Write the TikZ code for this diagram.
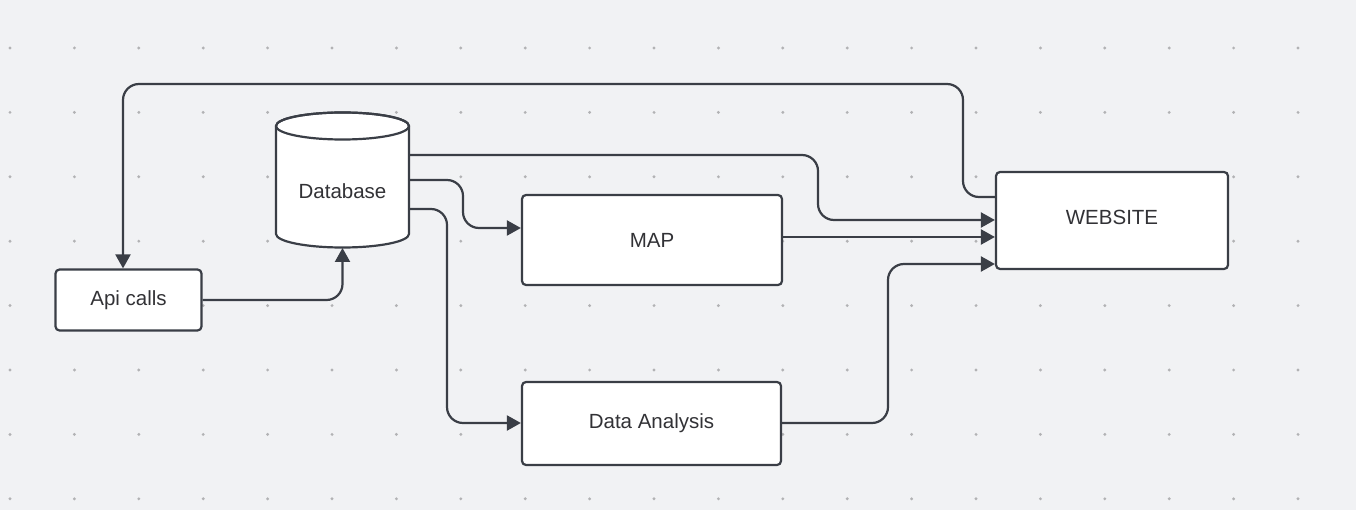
\documentclass[tikz,border=0pt]{standalone}
\usepackage{fontspec}
\setmainfont{Liberation Sans}
\usetikzlibrary{arrows.meta}
\definecolor{bgc}{RGB}{241,242,244}
\definecolor{linec}{RGB}{58,62,70}
\definecolor{dotc}{RGB}{178,178,180}
\definecolor{txtc}{RGB}{50,50,54}
\tikzset{
  box/.style={draw=linec, line width=2.2pt, fill=white, rounded corners=4pt,
    inner sep=0pt, font=\fontsize{20.5}{24}\selectfont, text=txtc},
  conn/.style={draw=linec, line width=2.2pt, rounded corners=16pt,
    -{Triangle[length=14pt,width=15pt]}},
  lbl/.style={inner sep=0pt, font=\fontsize{20.5}{24}\selectfont, text=txtc}
}
\begin{document}
\begin{tikzpicture}[x=1pt,y=-1pt]
\useasboundingbox (0,0) rectangle (1356,510);
\fill[bgc] (0,0) rectangle (1356,510);
% dot grid
\foreach \i in {0,...,20}{
  \foreach \j in {0,...,7}{
    \fill[dotc] ({10+64.4*\i},{48+64.4*\j}) circle[radius=1.6pt];
  }
}
% nodes
\node[box, minimum width=146pt, minimum height=61pt] (api) at (128.5,300) {Api calls};
\node[box, minimum width=260pt, minimum height=90pt] (map) at (652,240) {MAP};
\node[box, minimum width=259pt, minimum height=83pt] (da) at (651.5,423.5) {Data Analysis};
\node[box, minimum width=232pt, minimum height=97pt] (web) at (1112,220.5) {};
\node[lbl] (webl) at (1112,217) {WEBSITE};
% database cylinder
\node[inner sep=0pt, minimum width=133pt, minimum height=122pt] (db) at (342.5,187) {};
\filldraw[draw=linec, fill=white, line width=2.2pt]
  (276,126) -- (276,234) arc[start angle=180, end angle=360, x radius=66.5pt, y radius=13.5pt]
  -- (409,126) arc[start angle=0, end angle=180, x radius=66.5pt, y radius=13.5pt] -- cycle;
\draw[draw=linec, line width=2.2pt] (342.5,126) ellipse[x radius=66.5pt, y radius=13.5pt];
\node[lbl] (dbl) at (342.5,191) {Database};
% connectors
\coordinate (dbA) at (db.east |- 0,155);
\coordinate (dbB) at (db.east |- 0,180);
\coordinate (dbC) at (db.east |- 0,209);
\coordinate (dbBot) at (342.5,248);
\draw[conn] (dbA) -- (818,155) -- (818,220) -- (web.west |- 0,220);
\draw[conn] (dbB) -- (463,180) -- (463,228) -- (map.west |- 0,228);
\draw[conn] (dbC) -- (447,209) -- (447,423) -- (da.west |- 0,423);
\draw[conn] (map.east |- 0,237) -- (web.west |- 0,237);
\draw[conn] (da.east |- 0,423) -- (888,423) -- (888,264) -- (web.west |- 0,264);
\draw[conn] (web.west |- 0,197) -- (963,197) -- (963,84) -- (123,84) -- (api.north -| 123,0);
\draw[conn] (api.east |- 0,300) -- (342.5,300) -- (dbBot);
\end{tikzpicture}
\end{document}
